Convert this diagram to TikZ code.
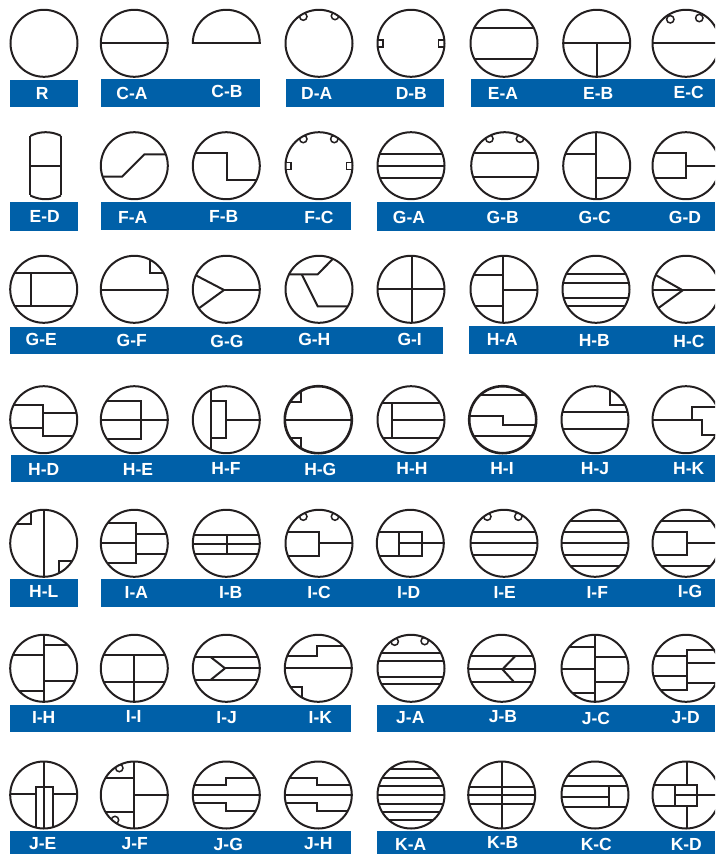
\documentclass[tikz,border=0pt]{standalone}
\usepackage{fontspec}
\setmainfont{Liberation Sans}
\definecolor{barblue}{HTML}{0060A8}
\definecolor{ink}{HTML}{231F20}
\tikzset{
  bar/.style={fill=barblue},
  lab/.style={text=white,inner sep=0pt,anchor=center,font=\fontsize{17.5}{17.5}\selectfont\bfseries},
  ln/.style={draw=ink,line width=2pt,line join=miter},
  rim/.style={draw=ink,line width=2pt},
  thickrim/.style={draw=ink,line width=2.6pt}
}
\newcommand\Sym[3]{\begin{scope}[shift={(#1,#2)}]\begin{scope}\clip (0,0) circle (33.5pt);#3\end{scope}\path[rim] (0,0) circle (33.5pt);\end{scope}}
\newcommand\SymT[3]{\begin{scope}[shift={(#1,#2)}]\begin{scope}\clip (0,0) circle (33.5pt);#3\end{scope}\path[thickrim] (0,0) circle (33.5pt);\end{scope}}
\newcommand\Hl[1]{\path[ln] (-36,#1) -- (36,#1);}
\newcommand\Nch[2]{\path[ln,line width=1.5pt] (#1,#2) circle (3.7pt);}
\newcommand\Lab[3]{\node[lab] (#1) at (#2,#3) {#1};}
\begin{document}
\begin{tikzpicture}[x=1pt,y=-1pt]
\useasboundingbox (0,0) rectangle (715,854);
\clip (0,0) rectangle (715,854);
% bars
\fill[bar] (10,80) rectangle (78,107);
\fill[bar] (101,79) rectangle (260,107);
\fill[bar] (286,79) rectangle (444,107);
\fill[bar] (471,79) rectangle (715,107);
\fill[bar] (10,202) rectangle (78,231);
\fill[bar] (101,202) rectangle (351,230);
\fill[bar] (377,202) rectangle (715,231);
\fill[bar] (10,327) rectangle (443,354);
\fill[bar] (469,326) rectangle (715,354);
\fill[bar] (11,455) rectangle (715,482);
\fill[bar] (10,579) rectangle (78,607);
\fill[bar] (101,579) rectangle (715,607);
\fill[bar] (10,705) rectangle (351,732);
\fill[bar] (377,705) rectangle (715,732);
\fill[bar] (10,831) rectangle (351,854);
\fill[bar] (377,831) rectangle (715,854);
% labels
\Lab{R}{42.3}{93.5}\Lab{C-A}{132}{93.3}\Lab{C-B}{227}{91.7}\Lab{D-A}{316.7}{93.3}\Lab{D-B}{411.3}{93.3}\Lab{E-A}{503}{93.3}\Lab{E-B}{598.3}{93.3}\Lab{E-C}{688.7}{92.3}
\Lab{E-D}{44.7}{216.7}\Lab{F-A}{132.7}{217.7}\Lab{F-B}{223.7}{216.7}\Lab{F-C}{319}{217}\Lab{G-A}{409}{217}\Lab{G-B}{502.7}{217}\Lab{G-C}{594.7}{217}\Lab{G-D}{685}{217}
\Lab{G-E}{41.3}{339.7}\Lab{G-F}{131.7}{340}\Lab{G-G}{227}{341}\Lab{G-H}{314.3}{339.7}\Lab{G-I}{409.7}{339.7}\Lab{H-A}{502.3}{339.7}\Lab{H-B}{594.3}{340.3}\Lab{H-C}{689}{341}
\Lab{H-D}{43.7}{469.3}\Lab{H-E}{138}{469.3}\Lab{H-F}{226}{468.3}\Lab{H-G}{320.3}{469}\Lab{H-H}{412}{468.3}\Lab{H-I}{502}{468.3}\Lab{H-J}{595}{468.3}\Lab{H-K}{688.7}{468.3}
\Lab{H-L}{43.7}{591.7}\Lab{I-A}{136.3}{592.7}\Lab{I-B}{230.7}{592.7}\Lab{I-C}{319}{592.7}\Lab{I-D}{408.7}{592.3}\Lab{I-E}{504.7}{592.3}\Lab{I-F}{597.3}{592.3}\Lab{I-G}{690}{591}
\Lab{I-H}{43.7}{717.3}\Lab{I-I}{133.7}{716}\Lab{I-J}{226.7}{717.3}\Lab{I-K}{320.3}{717.3}\Lab{J-A}{410.3}{717.3}\Lab{J-B}{503}{716.7}\Lab{J-C}{596}{718}\Lab{J-D}{685.7}{718}
\Lab{J-E}{42.7}{844}\Lab{J-F}{134.7}{844}\Lab{J-G}{228.3}{844}\Lab{J-H}{318.3}{844}\Lab{K-A}{410.7}{844}\Lab{K-B}{502.7}{842.3}\Lab{K-C}{596.3}{844.3}\Lab{K-D}{686.3}{844}
% row 1
\Sym{44}{43.3}{}
\Sym{134.3}{43.3}{\Hl{0}}
\begin{scope}[shift={(226.3,43.3)}]
  \begin{scope}\clip (-40,-40) rectangle (40,0);\path[rim] (0,0) circle (33.5pt);\end{scope}
  \path[ln] (-34.5,0) -- (34.5,0);
\end{scope}
\Sym{319}{43.3}{\Nch{-15.7}{-26.7}\Nch{16}{-27.3}}
\Sym{411}{43.3}{\path[ln,line width=1.5pt] (-36,-3.3) rectangle (-28,3.7);\path[ln,line width=1.5pt] (27.5,-3.3) rectangle (36,3.7);}
\Sym{504}{43.3}{\Hl{-15}\Hl{15.3}}
\Sym{596.7}{43.3}{\Hl{0}\path[ln] (0,0) -- (0,36);}
\Sym{686}{43.3}{\Hl{0}\Nch{-15.7}{-24}\Nch{13.3}{-25.3}}
% row 2
\begin{scope}[shift={(45.7,165.7)}]
  \begin{scope}\clip (-15.5,-40) rectangle (15.5,40);\path[rim] (0,0) circle (33.5pt);\end{scope}
  \path[ln] (-15.5,-29.5) -- (-15.5,29.5);
  \path[ln] (15.5,-29.5) -- (15.5,29.5);
  \path[ln] (-15.5,0) -- (15.5,0);
\end{scope}
\Sym{134.3}{165.7}{\path[ln] (-36,11) -- (-12.3,11) -- (10,-11.3) -- (36,-11.3);}
\Sym{226.3}{165.7}{\path[ln] (-36,-13) -- (0.3,-13) -- (0.3,14.3) -- (36,14.3);}
\Sym{319}{165.7}{\Nch{-15.7}{-26.7}\Nch{15.3}{-26.7}\path[ln,line width=1.5pt] (-36,-3) rectangle (-28,4);\path[ln,line width=1.5pt] (27.5,-3) rectangle (36,4);}
\Sym{411}{165.7}{\Hl{-11.3}\Hl{0.3}\Hl{12.3}}
\Sym{504.7}{165.7}{\Nch{-15.3}{-27}\Nch{15.3}{-27}\Hl{-12.3}\Hl{11.7}}
\Sym{596.7}{165.7}{\path[ln] (-1,-36) -- (-1,36);\path[ln] (-36,-12) -- (-1,-12);\path[ln] (-1,12.3) -- (36,12.3);}
\Sym{686}{165.7}{\path[ln] (-36,-12.3) -- (0.3,-12.3) -- (0.3,12.3) -- (-36,12.3);\path[ln] (0.3,0) -- (36,0);}
% row 3
\Sym{43.7}{289.3}{\Hl{-16.7}\Hl{16.7}\path[ln] (-13,-16.7) -- (-13,16.7);}
\Sym{134.3}{289.3}{\Hl{0.7}\path[ln] (15.7,-36) -- (15.7,-16.7) -- (36,-16.7);}
\Sym{226.3}{289.3}{\path[ln] (-2.3,0.7) -- (36,0.7);\path[ln] (-32,-14.8) -- (-2.3,0.7) -- (-28.5,19.8);}
\Sym{319}{289.3}{\path[ln] (-36,-15) -- (-1.3,-15) -- (16,-32.6);\path[ln] (-17.3,-15) -- (-1.3,17) -- (36,17);}
\Sym{411}{289.3}{\path[ln] (0.7,-36) -- (0.7,36);\Hl{0}}
\Sym{504}{289.3}{\path[ln] (-1.3,-36) -- (-1.3,36);\path[ln] (-36,-14) -- (-1.3,-14);\path[ln] (-36,16.3) -- (-1.3,16.3);\path[ln] (-1.3,0.3) -- (36,0.3);}
\Sym{596}{289.3}{\Hl{-15}\Hl{-6.7}\Hl{8.7}\Hl{17}}
\Sym{686}{289.3}{\Hl{1}\path[ln] (-31,-14.7) -- (-3.3,1) -- (-29,19.8);}
% row 4
\Sym{43.7}{419.7}{\path[ln] (-36,-14.7) -- (-0.3,-14.7) -- (-0.3,16.7) -- (36,16.7);\path[ln] (-36,8) -- (-0.3,8);\path[ln] (-0.3,-6.3) -- (36,-6.3);}
\Sym{134.3}{419.7}{\path[ln] (-36,-19) -- (7,-19) -- (7,19) -- (-36,19);\Hl{0}}
\Sym{226.3}{419.7}{\path[ln] (-15.7,-36) -- (-15.7,36);\path[ln] (-15.7,-19) -- (0,-19) -- (0,18.7) -- (-15.7,18.7);\path[ln] (0,0) -- (36,0);}
\SymT{318.3}{419.7}{\Hl{0}\path[ln] (-36,-17.7) -- (-17.3,-17.7) -- (-17.3,-36);\path[ln] (-36,18) -- (-17.3,18) -- (-17.3,36);}
\Sym{411}{419.7}{\path[ln] (-19.3,-16.7) -- (-19.3,18);\Hl{-16.7}\Hl{18}\path[ln] (-19.3,0) -- (36,0);}
\SymT{502.7}{419.7}{\Hl{-24.3}\path[ln] (-36,-4) -- (0,-4) -- (0,5.3) -- (36,5.3);\Hl{16.3}}
\Sym{595}{419.7}{\Hl{-8}\Hl{9}\path[ln] (15,-36) -- (15,-14.3) -- (36,-14.3);}
\Sym{686}{419.7}{\path[ln] (-36,0.3) -- (15.7,0.3) -- (15.7,15.3) -- (36,15.3);\path[ln] (5.7,0.3) -- (5.7,-13) -- (36,-13);}
% row 5
\Sym{43.7}{543.3}{\path[ln] (0.7,-36) -- (0.7,36);\path[ln] (-36,-19.3) -- (-13,-19.3) -- (-13,-36);\path[ln] (15.3,36) -- (15.3,17.7) -- (36,17.7);}
\Sym{134.3}{543.3}{\path[ln] (-36,-20) -- (1.3,-20) -- (1.3,20) -- (-36,20);\path[ln] (-36,0) -- (1.3,0);\path[ln] (1.3,-9.7) -- (36,-9.7);\path[ln] (1.3,10.3) -- (36,10.3);}
\Sym{226.3}{543.3}{\Hl{-8.7}\Hl{0.3}\Hl{10.3}\path[ln] (0.7,-8.7) -- (0.7,10.3);}
\Sym{319}{543.3}{\Nch{-15.7}{-26.7}\Nch{16}{-26.7}\path[ln] (-36,-11.7) -- (0.3,-11.7) -- (0.3,12.3) -- (-36,12.3);\path[ln] (0.3,0) -- (36,0);}
\Sym{410.3}{543.3}{\path[ln] (-36,-11.7) -- (11.3,-11.7) -- (11.3,12.3) -- (-36,12.3);\path[ln] (11.3,0) -- (36,0);\path[ln] (-11,-11.7) -- (-11,12.3);\path[ln] (-11,0) -- (11.3,0);}
\Sym{504}{543.3}{\Nch{-16.7}{-26.7}\Nch{14.3}{-26.7}\Hl{-11.7}\Hl{0}\Hl{11.7}}
\Sym{595}{543.3}{\Hl{-22.7}\Hl{-11.7}\Hl{0}\Hl{11.7}\Hl{22.7}}
\Sym{686}{543.3}{\Hl{-22.7}\Hl{22.7}\path[ln] (-36,-11.7) -- (0.7,-11.7) -- (0.7,11.7) -- (-36,11.7);\path[ln] (0.7,0) -- (36,0);}
% row 6
\Sym{43.7}{668.3}{\path[ln] (0,-36) -- (0,36);\path[ln] (-36,-13.7) -- (0,-13.7);\path[ln] (-36,22.7) -- (0,22.7);\path[ln] (0,-23.7) -- (36,-23.7);\path[ln] (0,13) -- (36,13);}
\Sym{134.3}{668.3}{\Hl{-13}\Hl{13.7}\path[ln] (0,-13) -- (0,36);}
\Sym{226.3}{668.3}{\Hl{-11}\Hl{11.3}\path[ln] (-15.3,-11) -- (-1.3,0) -- (-15.3,11.3);\path[ln] (-1.3,0) -- (36,0);}
\Sym{318.3}{668.3}{\path[ln] (-36,-12.7) -- (-1.7,-12.7) -- (-1.7,-22.7) -- (36,-22.7);\Hl{0}\path[ln] (-36,18.7) -- (-16,18.7) -- (-16,36);}
\Sym{411}{668.3}{\Nch{-16.3}{-26.7}\Nch{13.7}{-27.3}\Hl{-15.3}\Hl{-7.7}\Hl{8.3}\Hl{16}}
\Sym{501.7}{668.3}{\Hl{-12.7}\Hl{1}\Hl{13.7}\path[ln] (14,-12.7) -- (0.7,1) -- (12.3,13.7);}
\Sym{595}{668.3}{\path[ln] (0,-36) -- (0,36);\path[ln] (-36,-21.7) -- (0,-21.7);\path[ln] (-36,0.7) -- (0,0.7);\path[ln] (-36,24.3) -- (0,24.3);\path[ln] (0,-11) -- (36,-11);\path[ln] (0,13.3) -- (36,13.3);}
\Sym{686}{668.3}{\path[ln] (-36,-12.3) -- (1.3,-12.3);\path[ln] (-36,7.3) -- (1.3,7.3);\path[ln] (-36,21.7) -- (1.3,21.7) -- (1.3,-18.3) -- (36,-18.3);\path[ln] (1.3,-5.7) -- (36,-5.7);\path[ln] (1.3,14.3) -- (36,14.3);}
% row 7
\Sym{43.7}{795}{\path[ln] (0.7,-36) -- (0.7,36);\path[ln] (-7.7,36) -- (-7.7,-8.3) -- (9,-8.3) -- (9,36);\path[ln] (-36,-0.7) -- (-7.7,-0.7);\path[ln] (9,-0.7) -- (36,-0.7);}
\Sym{134.3}{795}{\path[ln] (0,-36) -- (0,36);\path[ln] (-36,-17.3) -- (0,-17.3);\path[ln] (-36,17) -- (0,17);\path[ln] (0,0) -- (36,0);\Nch{-15}{-27}\Nch{-19.3}{25}}
\Sym{226.3}{795}{\Hl{0}\path[ln] (-36,-10.3) -- (-0.7,-10.3) -- (-0.7,-17) -- (36,-17);\path[ln] (-36,8.3) -- (-0.7,8.3) -- (-0.7,16) -- (36,16);}
\Sym{318.3}{795}{\Hl{0}\path[ln] (-36,-17) -- (-1.7,-17) -- (-1.7,-10.3) -- (36,-10.3);\path[ln] (-36,8.3) -- (-1.7,8.3) -- (-1.7,16) -- (36,16);}
\Sym{411}{795}{\Hl{-26.3}\Hl{-17}\Hl{-9}\Hl{-0.3}\Hl{8.7}\Hl{17}\Hl{25}}
\Sym{501.7}{795}{\path[ln] (0.7,-36) -- (0.7,36);\Hl{-8.3}\Hl{0.3}\Hl{8.7}}
\Sym{595}{795}{\Hl{-19}\Hl{-9.3}\Hl{12.3}\path[ln] (-36,1.7) -- (14.3,1.7);\path[ln] (14.3,-9.3) -- (14.3,12.3);}
\Sym{686}{795}{\path[ln] (0.7,-36) -- (0.7,-10);\path[ln] (0.7,11) -- (0.7,36);\path[ln] (-36,-10) -- (10.7,-10) -- (10.7,11) -- (-36,11);\path[ln] (-11,-10) -- (-11,11);\path[ln] (-11,0.3) -- (36,0.3);}
\end{tikzpicture}
\end{document}
